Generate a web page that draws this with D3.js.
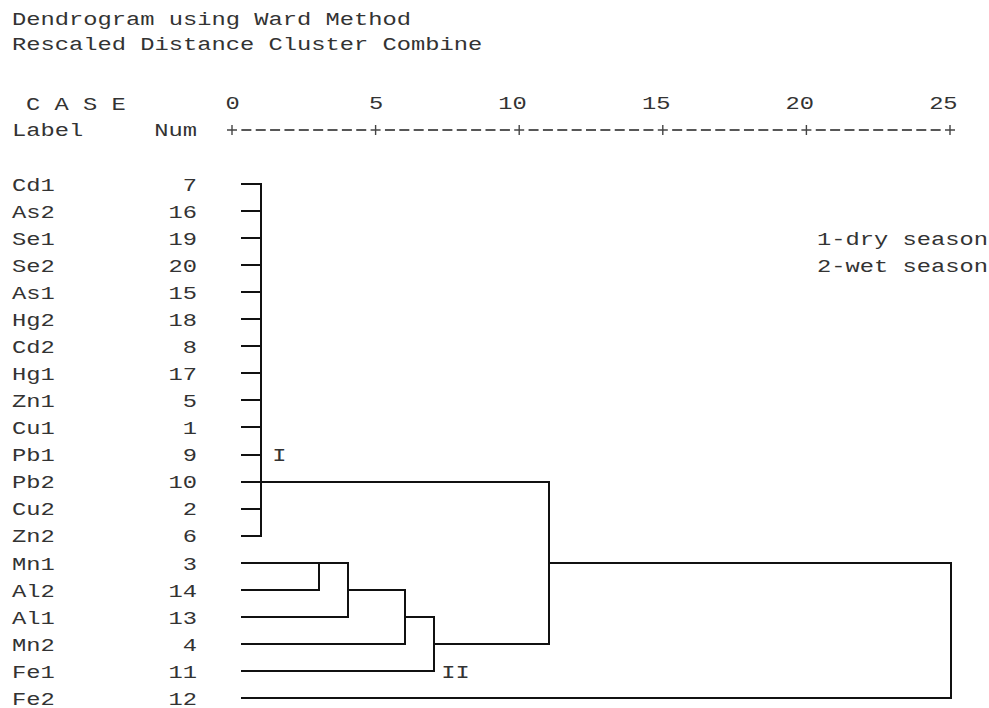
<!DOCTYPE html>
<html>
<head>
<meta charset="utf-8">
<script src="https://cdn.jsdelivr.net/npm/d3@7"></script>
<style>
  html, body { margin: 0; padding: 0; background: #fff; }
  svg text { font-family: "Liberation Mono", "DejaVu Sans Mono", monospace; fill: #333; }
</style>
</head>
<body>
<div id="chart"></div>
<script>
//Size of the page.
let w = 989
let h = 708

//Case labels, top to bottom, and their case numbers.
let labels = ["Cd1", "As2", "Se1", "Se2", "As1", "Hg2", "Cd2", "Hg1", "Zn1", "Cu1",
              "Pb1", "Pb2", "Cu2", "Zn2", "Mn1", "Al2", "Al1", "Mn2", "Fe1", "Fe2"]
let caseNums = [7, 16, 19, 20, 15, 18, 8, 17, 5, 1, 9, 10, 2, 6, 3, 14, 13, 4, 11, 12]

//Rescaled distance axis.
let axisTicks = [0, 5, 10, 15, 20, 25]

//Cluster I: all these cases join at almost zero distance, line leaves at Pb2.
let clusterIMembers = labels.slice(0, 14)
let clusterIHeight = 0.7
let clusterIRow = "Pb2"

//Remaining merges: [left, right, rescaled distance, new node name].
let merges = [
  ["Mn1", "Al2", 2.75, "m1"],
  ["m1", "Al1", 3.77, "m2"],
  ["m2", "Mn2", 5.77, "m3"],
  ["m3", "Fe1", 6.8, "II"],
  ["I", "II", 10.85, "m5"],
  ["m5", "Fe2", 25, "root"]
]

//Cluster names written next to the tree: [text, row, distance].
let clusterTags = [["I", "Pb1", 1.1], ["II", "Fe1", 7.05]]

//Notes on the right.
let notes = ["1-dry season", "2-wet season"]

//Width of one monospace character, as in the picture.
const charW = 14.25
const fontSize = 18.8

const svg = d3.select("#chart")
              .append("svg")
              .attr("width", w)
              .attr("height", h)

//Writes a stretched monospace string.
function mono(sel, str, x, y, anchor) {
  return sel.append("text")
            .attr("x", x)
            .attr("y", y)
            .attr("dy", "0.36em")
            .attr("font-size", fontSize)
            .attr("text-anchor", anchor || "start")
            .attr("textLength", str.length * charW)
            .attr("lengthAdjust", "spacingAndGlyphs")
            .text(str)
}

//Scales: axis ruler, tree lines and rows.
let axisScale = d3.scaleLinear().domain([0, 25]).range([232, 950])
let xScale = d3.scaleLinear().domain([0, 25]).range([241, 951])
let yScale = d3.scaleLinear().domain([0, labels.length - 1]).range([184, 698])

//Titles.
mono(svg, "Dendrogram using Ward Method", 12, 18)
mono(svg, "Rescaled Distance Cluster Combine", 12, 43)
mono(svg, "C A S E", 26, 103)
mono(svg, "Label", 12, 129)
mono(svg, "Num", 197, 129, "end")

//Axis labels from the scale; the last digit sits over the "+".
let axisG = svg.append("g")
               .attr("transform", "translate(0,109)")
               .call(d3.axisTop(axisScale).tickValues(axisTicks).tickSize(0).tickPadding(0))
axisG.select(".domain").remove()
axisG.selectAll("text")
     .attr("font-size", fontSize)
     .attr("font-family", null)
     .attr("fill", "#333")
     .attr("dy", "0")
     .attr("text-anchor", "end")
     .attr("dx", charW / 2)
     .each(function (d) {
       d3.select(this).attr("textLength", String(d).length * charW).attr("lengthAdjust", "spacingAndGlyphs")
     })

//The "+---------+" ruler under the labels.
let ruleY = 130
let ruler = svg.append("g").attr("stroke", "#444")
axisTicks.forEach((t) => {
  let x = axisScale(t)
  ruler.append("path")
       .attr("stroke-width", 1.4)
       .attr("d", `M${x - 5},${ruleY}H${x + 5}M${x},${ruleY - 5}V${ruleY + 5}`)
})
for (let k = 0; k < axisTicks.length - 1; k++) {
  let x0 = axisScale(axisTicks[k])
  let step = (axisScale(axisTicks[k + 1]) - x0) / 10
  for (let j = 1; j < 10; j++) {
    let cx = x0 + j * step
    ruler.append("line")
         .attr("stroke-width", 1.8)
         .attr("x1", cx - 5).attr("x2", cx + 5).attr("y1", ruleY).attr("y2", ruleY)
  }
}

//Case labels and numbers.
labels.forEach((lab, i) => {
  mono(svg, lab, 12, yScale(i))
  mono(svg, String(caseNums[i]), 197, yScale(i), "end")
})

//Tree nodes: row index and distance.
let nodes = {}
labels.forEach((lab, i) => { nodes[lab] = {row: i, dist: 0} })

let tree = svg.append("g")
              .attr("stroke", "#111")
              .attr("stroke-width", 2)
              .attr("fill", "none")
              .attr("shape-rendering", "crispEdges")

function hLine(row, d0, d1) {
  tree.append("line")
      .attr("x1", xScale(d0)).attr("x2", xScale(d1))
      .attr("y1", Math.round(yScale(row))).attr("y2", Math.round(yScale(row)))
}
function vLine(d, r0, r1) {
  tree.append("line")
      .attr("x1", xScale(d)).attr("x2", xScale(d))
      .attr("y1", Math.round(yScale(r0)) - 1).attr("y2", Math.round(yScale(r1)) + 1)
}

//Cluster I.
let rowsI = clusterIMembers.map((m) => nodes[m].row)
clusterIMembers.forEach((m) => hLine(nodes[m].row, 0, clusterIHeight))
vLine(clusterIHeight, d3.min(rowsI), d3.max(rowsI))
nodes["I"] = {row: nodes[clusterIRow].row, dist: clusterIHeight}

//Binary merges.
merges.forEach(([a, b, d, name]) => {
  let na = nodes[a], nb = nodes[b]
  hLine(na.row, na.dist, d)
  hLine(nb.row, nb.dist, d)
  vLine(d, Math.min(na.row, nb.row), Math.max(na.row, nb.row))
  nodes[name] = {row: Math.floor((na.row + nb.row) / 2), dist: d}
})

//Cluster tags.
clusterTags.forEach(([t, row, d]) => {
  mono(svg, t, xScale(d), yScale(labels.indexOf(row)))
})

//Notes.
notes.forEach((n, i) => mono(svg, n, 817, yScale(2 + i)))
</script>
</body>
</html>
